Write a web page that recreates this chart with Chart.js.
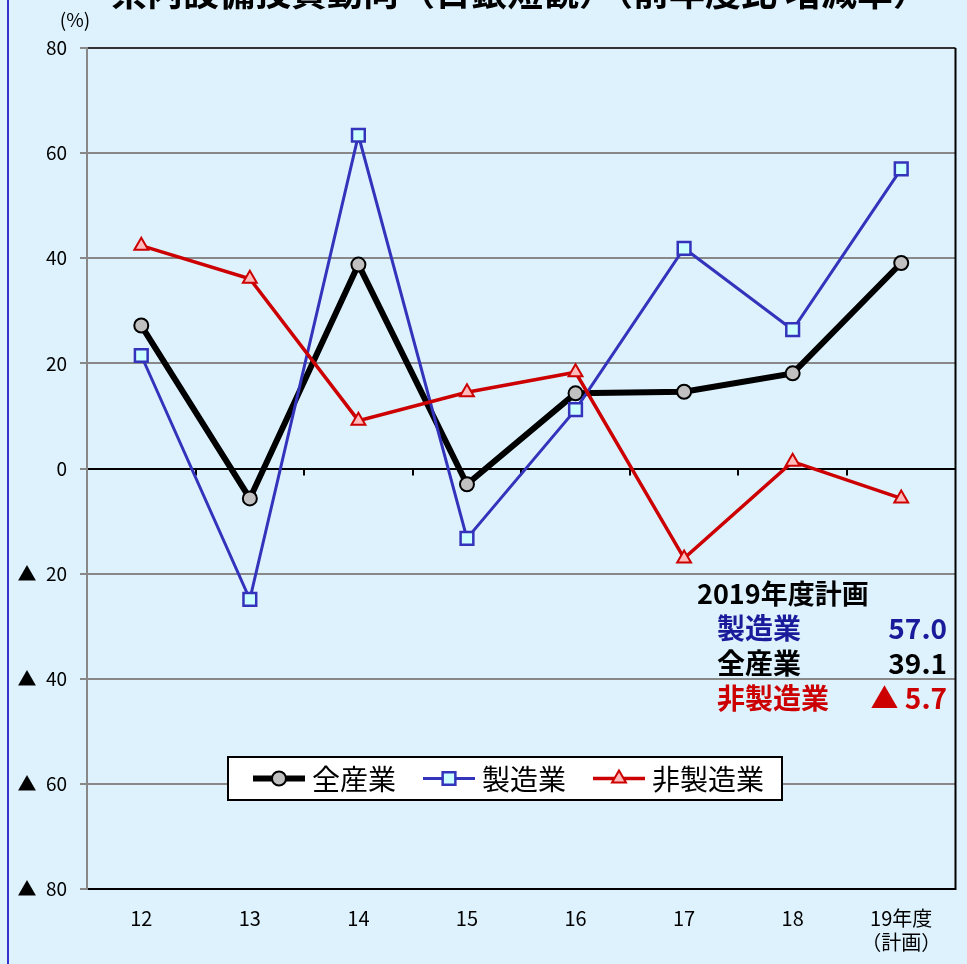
<!DOCTYPE html>
<html>
<head>
<meta charset="utf-8">
<script src="https://cdn.jsdelivr.net/npm/chart.js@4.4.0/dist/chart.umd.min.js"></script>
<style>
  html, body { margin: 0; padding: 0; background: #ddf2fd; }
</style>
</head>
<body>
<canvas id="myChart" width="967" height="964"></canvas>
<script>
// 設備投資 前年度比 (%)
const years = ["12", "13", "14", "15", "16", "17", "18", ["19年度", "（計画）"]];
const allInd = [27.2, -5.7, 38.8, -3.0, 14.3, 14.6, 18.1, 39.1];
const mfg = [21.5, -24.9, 63.4, -13.3, 11.2, 41.9, 26.4, 57.0];
const nonMfg = [42.4, 36.1, 9.1, 14.5, 18.3, -17.1, 1.3, -5.7];
const names = ["全産業", "製造業", "非製造業"];
const yTicks = [80, 60, 40, 20, 0, -20, -40, -60, -80];
const planTitle = "2019年度計画";
const planRows = [["製造業", "57.0"], ["全産業", "39.1"], ["非製造業", "▲ 5.7"]];

const FONT = '"Noto Sans CJK JP", "Noto Sans", sans-serif';
const BG = "#ddf2fd";

function marker(ctx, ds, x, y) {
  const r = ds.pointRadius;
  ctx.save();
  ctx.fillStyle = ds.pointBackgroundColor;
  ctx.strokeStyle = ds.pointBorderColor;
  ctx.lineWidth = ds.pointBorderWidth;
  ctx.beginPath();
  if (ds.pointStyle === "circle") {
    ctx.arc(x, y, r, 0, Math.PI * 2);
  } else if (ds.pointStyle === "rect") {
    const s = r * Math.SQRT1_2;
    ctx.rect(x - s, y - s, 2 * s, 2 * s);
  } else {
    const w = r * Math.sin(Math.PI / 3);
    ctx.moveTo(x, y - r);
    ctx.lineTo(x + w, y + r / 2);
    ctx.lineTo(x - w, y + r / 2);
    ctx.closePath();
  }
  ctx.fill();
  ctx.stroke();
  ctx.restore();
}

const decor = {
  id: "decor",
  beforeDraw(chart) {
    const { ctx, width, height } = chart;
    ctx.save();
    ctx.fillStyle = BG;
    ctx.fillRect(0, 0, width, height);
    ctx.fillStyle = "#3333cc";
    ctx.fillRect(7, 0, 2, height);
    ctx.restore();
  },
  beforeDatasetsDraw(chart) {
    const { ctx, chartArea } = chart;
    const y0 = chart.scales.y.getPixelForValue(0);
    const step = (chartArea.right - chartArea.left) / years.length;
    ctx.save();
    ctx.strokeStyle = "#000";
    ctx.lineWidth = 2;
    ctx.beginPath();
    for (let i = 1; i < years.length; i++) {
      const x = Math.round(chartArea.left + i * step);
      ctx.moveTo(x, y0);
      ctx.lineTo(x, y0 + 7);
    }
    // right frame
    ctx.moveTo(chartArea.right, chartArea.top);
    ctx.lineTo(chartArea.right, chartArea.bottom + 1);
    ctx.stroke();
    ctx.restore();
  },
  afterDraw(chart) {
    const { ctx } = chart;
    ctx.save();
    // title (cut off at the top)
    ctx.fillStyle = "#000";
    ctx.font = "bold 36px " + FONT;
    ctx.textAlign = "center";
    ctx.textBaseline = "alphabetic";
    ctx.fillText("県内設備投資動向（日銀短観）（前年度比 増減率）", 520, 6);

    ctx.font = "19px " + FONT;
    ctx.textBaseline = "middle";
    ctx.fillText("(%)", 75, 20);

    // legend
    const lx = 228, ly = 757, lw = 554, lh = 43;
    ctx.fillStyle = "#fff";
    ctx.fillRect(lx, ly, lw, lh);
    ctx.strokeStyle = "#000";
    ctx.lineWidth = 2;
    ctx.strokeRect(lx, ly, lw, lh);
    ctx.font = "28px " + FONT;
    ctx.textAlign = "left";
    let x = 253;
    const cy = ly + lh / 2;
    chart.data.datasets.forEach((ds) => {
      ctx.strokeStyle = ds.borderColor;
      ctx.lineWidth = ds.borderWidth;
      ctx.beginPath();
      ctx.moveTo(x, cy);
      ctx.lineTo(x + 52, cy);
      ctx.stroke();
      marker(ctx, ds, x + 26, cy);
      ctx.fillStyle = "#000";
      ctx.fillText(ds.label, x + 59, cy + 1);
      x += 59 + ctx.measureText(ds.label).width + 27;
    });

    // 2019 plan box
    ctx.font = "bold 27px " + FONT;
    ctx.fillStyle = "#000";
    ctx.fillText(planTitle, 697, 594);
    ctx.font = "bold 28px " + FONT;
    const rowColors = ["#1a1a9a", "#000", "#cc0000"];
    planRows.forEach((row, i) => {
      const y = 628 + i * 35;
      ctx.fillStyle = rowColors[i];
      ctx.textAlign = "left";
      ctx.fillText(row[0], 717, y);
      ctx.textAlign = "right";
      ctx.fillText(row[1], 947, y);
    });
    ctx.restore();
  },
};

const area = document.querySelector("#myChart");

const myChart = new Chart(area, {
  type: "line",
  data: {
    labels: years,
    datasets: [
      {
        label: names[0],
        data: allInd,
        borderColor: "#000",
        borderWidth: 6,
        pointStyle: "circle",
        pointRadius: 7,
        pointBackgroundColor: "#c0c0c0",
        pointBorderColor: "#000",
        pointBorderWidth: 2,
        order: 3,
      },
      {
        label: names[1],
        data: mfg,
        borderColor: "#3333bb",
        borderWidth: 3,
        pointStyle: "rect",
        pointRadius: 9,
        pointBackgroundColor: "#ccffff",
        pointBorderColor: "#3333bb",
        pointBorderWidth: 2.5,
        order: 2,
      },
      {
        label: names[2],
        data: nonMfg,
        borderColor: "#cc0000",
        borderWidth: 3.5,
        pointStyle: "triangle",
        pointRadius: 8,
        pointBackgroundColor: "#ffbbbb",
        pointBorderColor: "#cc0000",
        pointBorderWidth: 2,
        order: 1,
      },
    ],
  },
  options: {
    responsive: false,
    animation: false,
    layout: {
      padding: { left: 0, top: 48, right: 6, bottom: 0 },
    },
    plugins: {
      legend: { display: false },
      tooltip: { enabled: false },
    },
    scales: {
      x: {
        offset: true,
        grid: { display: false, drawTicks: true, tickLength: 17 },
        border: { display: false },
        ticks: {
          color: "#000",
          padding: 0,
          font: { family: FONT, size: 20 },
          maxRotation: 0,
        },
        afterFit: (s) => {
          s.height = 75;
          s.paddingLeft = 0;
          s.paddingRight = 0;
        },
      },
      y: {
        min: -80,
        max: 80,
        afterBuildTicks: (s) => { s.ticks = yTicks.map((v) => ({ value: v })); },
        afterFit: (s) => { s.width = 87; },
        grid: {
          color: (c) => {
            const v = c.tick.value;
            if (v === 0 || v === -80) return "#000";
            if (v === 80) return "#333";
            return "#888";
          },
          lineWidth: 2,
          tickColor: "#888",
          tickLength: 7,
        },
        border: { color: "#888", width: 2 },
        ticks: {
          color: "#000",
          padding: 13,
          font: { family: FONT, size: 19 },
          callback: (v) => (v < 0 ? "▲\u2002" + -v : String(v)),
        },
      },
    },
  },
  plugins: [decor],
});
</script>
</body>
</html>
